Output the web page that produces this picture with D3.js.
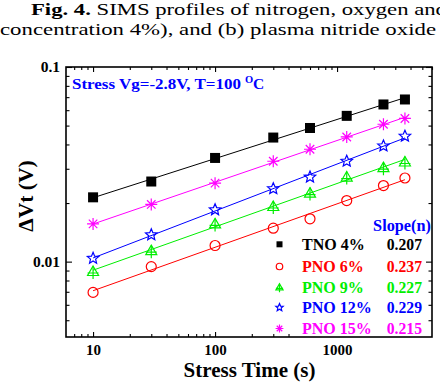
<!DOCTYPE html>
<html><head><meta charset="utf-8">
<script src="https://cdn.jsdelivr.net/npm/d3@7/dist/d3.min.js"></script>
<style>
html,body{margin:0;padding:0;background:#fff;}
svg{display:block;}
</style></head>
<body>
<svg id="c" width="440" height="382"></svg>
<script>
// ---- data ----
const stressTimes = [10, 30, 100, 300, 600, 1200, 2400, 3600];
const seriesNames = ["TNO 4%", "PNO 6%", "PNO 9%", "PNO 12%", "PNO 15%"];
const slopeLabels = ["0.207", "0.237", "0.227", "0.229", "0.215"];
const tno4  = [0.0214, 0.0258, 0.0341, 0.0434, 0.0486, 0.0561, 0.0642, 0.0681];
const pno6  = [0.00695, 0.00943, 0.0121, 0.01485, 0.0166, 0.0206, 0.0246, 0.0269];
const pno9  = [0.0089, 0.01139, 0.01563, 0.0192, 0.0225, 0.0272, 0.0304, 0.0325];
const pno12 = [0.0104, 0.01373, 0.01847, 0.0237, 0.0272, 0.0328, 0.0393, 0.0441];
const pno15 = [0.01563, 0.01967, 0.0253, 0.0328, 0.0378, 0.0437, 0.0508, 0.0544];
const xTickLabels = [10, 100, 1000];
const yTickLabels = [0.01, 0.1];
const xMinorTicks = [7,8,9,20,30,40,50,60,70,80,90,200,300,400,500,600,700,800,900,2000,3000,4000,5000,6000];
const yMinorTicks = [0.005,0.006,0.007,0.008,0.009,0.02,0.03,0.04,0.05,0.06,0.07,0.08,0.09];

const allSeries = [tno4, pno6, pno9, pno12, pno15];
const colors = ["#000000", "#ff0000", "#00ee00", "#0000ff", "#ff00ff"];
const shapes = ["square", "circle", "triangle", "star", "asterisk"];

// ---- layout ----
const FONT = "'Liberation Serif', 'Times New Roman', 'DejaVu Serif', serif";
const L = 66, R = 432, T = 67, B = 337;
const svg = d3.select("#c");
const x = d3.scaleLog().domain([6, 6000]).range([L, R]);
const y = d3.scaleLog().domain([0.0041, 0.1]).range([B, T]);

// caption
const cap = svg.append("g").attr("font-size", 16.5);
const c1 = cap.append("text").attr("x", 31).attr("y", 15)
  .attr("textLength", 416).attr("lengthAdjust", "spacingAndGlyphs");
c1.append("tspan").attr("font-weight", "bold").text("Fig. 4.");
c1.append("tspan").text(" SIMS profiles of nitrogen, oxygen and");
cap.append("text").attr("x", 0).attr("y", 35)
   .attr("textLength", 436).attr("lengthAdjust", "spacingAndGlyphs")
   .text("concentration 4%), and (b) plasma nitride oxide");

// marker drawing
function marker(g, shape, cx, cy, s, color) {
  const sw = 1.2;
  if (shape === "square") {
    g.append("rect").attr("x", cx - s/2).attr("y", cy - s/2).attr("width", s).attr("height", s).attr("fill", color);
  } else if (shape === "circle") {
    g.append("circle").attr("cx", cx).attr("cy", cy).attr("r", s/2).attr("fill", "none").attr("stroke", color).attr("stroke-width", sw);
  } else if (shape === "triangle") {
    const h = s;
    g.append("path").attr("d", `M${cx},${cy - h*0.55}L${cx + s*0.55},${cy + h*0.4}L${cx - s*0.55},${cy + h*0.4}Z`)
      .attr("fill", "none").attr("stroke", color).attr("stroke-width", sw);
    g.append("path").attr("d", `M${cx},${cy - h*0.55}L${cx},${cy + h*0.75}M${cx - s*0.55},${cy + h*0.15}L${cx + s*0.55},${cy + h*0.15}`)
      .attr("stroke", color).attr("stroke-width", sw);
  } else if (shape === "star") {
    const pts = [];
    for (let i = 0; i < 10; i++) {
      const r = i % 2 === 0 ? s*0.6 : s*0.27;
      const a = -Math.PI/2 + i * Math.PI/5;
      pts.push([cx + r*Math.cos(a), cy + r*Math.sin(a)]);
    }
    g.append("path").attr("d", "M" + pts.map(p => p.join(",")).join("L") + "Z")
      .attr("fill", "none").attr("stroke", color).attr("stroke-width", sw);
  } else if (shape === "asterisk") {
    const r = s*0.6;
    let d = "";
    for (let i = 0; i < 4; i++) {
      const a = i * Math.PI/4;
      d += `M${cx - r*Math.cos(a)},${cy - r*Math.sin(a)}L${cx + r*Math.cos(a)},${cy + r*Math.sin(a)}`;
    }
    g.append("path").attr("d", d).attr("stroke", color).attr("stroke-width", sw);
  }
}

// fit lines (least squares in log-log) and markers
const plot = svg.append("g");
allSeries.forEach((vals, i) => {
  const lx = stressTimes.map(Math.log10), ly = vals.map(Math.log10);
  const mx = d3.mean(lx), my = d3.mean(ly);
  const b = d3.sum(lx.map((v, k) => (v - mx) * (ly[k] - my))) / d3.sum(lx.map(v => (v - mx) ** 2));
  const a = my - b * mx;
  const ends = [stressTimes[0], stressTimes[stressTimes.length - 1]];
  plot.append("path")
    .attr("d", d3.line().x(d => x(d)).y(d => y(Math.pow(10, a + b * Math.log10(d))))(ends))
    .attr("fill", "none").attr("stroke", colors[i]).attr("stroke-width", 1);
});
allSeries.forEach((vals, i) => {
  const g = plot.append("g");
  vals.forEach((v, k) => marker(g, shapes[i], x(stressTimes[k]), y(v), 10, colors[i]));
});

// axes
function addAxis(gen, tr, vals, size, labels) {
  const g = svg.append("g").attr("transform", tr)
    .call(gen.tickValues(vals).tickSize(size).tickSizeOuter(0).tickPadding(6)
      .tickFormat(labels ? (d => d3.format("")(d)) : () => ""));
  g.select(".domain").remove();
  g.attr("font-family", null);
  g.selectAll(".tick line").attr("stroke", "#000").attr("stroke-width", 1.1);
  g.selectAll("text").attr("font-size", 15.5).attr("font-weight", "bold").attr("fill", "#000");
  return g;
}
// bottom
addAxis(d3.axisBottom(x), `translate(0,${B})`, xMinorTicks.filter(v => v <= 400), -3, false);
const bAx = addAxis(d3.axisBottom(x), `translate(0,${B})`, xTickLabels, -5, true);
bAx.selectAll(".tick line").filter(d => d > 400).remove();
bAx.selectAll("text").attr("font-size", 15).attr("y", 7.5).attr("dy", "0.71em");
// top
addAxis(d3.axisTop(x), `translate(0,${T})`, xMinorTicks, -3, false);
addAxis(d3.axisTop(x), `translate(0,${T})`, xTickLabels, -5, false);
// left
addAxis(d3.axisLeft(y), `translate(${L},0)`, yMinorTicks, -3.5, false);
addAxis(d3.axisLeft(y), `translate(${L},0)`, yTickLabels, -6, true)
  .selectAll("text").attr("x", -6);
// right
addAxis(d3.axisRight(y), `translate(${R},0)`, yMinorTicks, -3.5, false);
addAxis(d3.axisRight(y), `translate(${R},0)`, yTickLabels, -6, false);

// frame
svg.append("rect").attr("x", L).attr("y", T).attr("width", R - L).attr("height", B - T)
  .attr("fill", "none").attr("stroke", "#000").attr("stroke-width", 1.6);

// axis titles
svg.append("text").attr("x", 249.5).attr("y", 377).attr("text-anchor", "middle")
  .attr("font-size", 21).attr("font-weight", "bold").text("Stress Time (s)");
svg.append("text").attr("transform", "translate(33,196) rotate(-90)").attr("text-anchor", "middle")
  .attr("font-size", 21.5).attr("font-weight", "bold").text("ΔVt (V)");

// annotation
const annG = svg.append("g").attr("font-weight", "bold").attr("fill", "#0000ff");
annG.append("text").attr("x", 72).attr("y", 88.5).attr("font-size", 15.5)
  .attr("textLength", 169).attr("lengthAdjust", "spacingAndGlyphs").text("Stress Vg=-2.8V, T=100");
annG.append("text").attr("x", 245).attr("y", 83).attr("font-size", 10.5).text("O");
annG.append("text").attr("x", 253).attr("y", 88.5).attr("font-size", 15.5).text("C");

// legend
const lg = svg.append("g");
lg.append("text").attr("x", 431).attr("y", 231).attr("text-anchor", "end")
  .attr("font-size", 16.3).attr("font-weight", "bold").attr("fill", "#0000ff").text("Slope(n)");
const rowY = [244.3, 266.5, 287.3, 307.5, 328.5];
seriesNames.forEach((name, i) => {
  const cy = rowY[i];
  marker(lg.append("g"), shapes[i], 279.5, cy, i === 0 ? 6 : 6.5, colors[i]);
  lg.append("text").attr("x", 302).attr("y", cy + 5.5).attr("font-size", 16).attr("font-weight", "bold")
    .attr("fill", colors[i]).text(name);
  lg.append("text").attr("x", 422).attr("y", cy + 5.5).attr("text-anchor", "end").attr("font-size", 15.7)
    .attr("font-weight", "bold").attr("fill", colors[i]).text(slopeLabels[i]);
});

svg.selectAll("text").style("font-family", FONT);
</script>
</body></html>
